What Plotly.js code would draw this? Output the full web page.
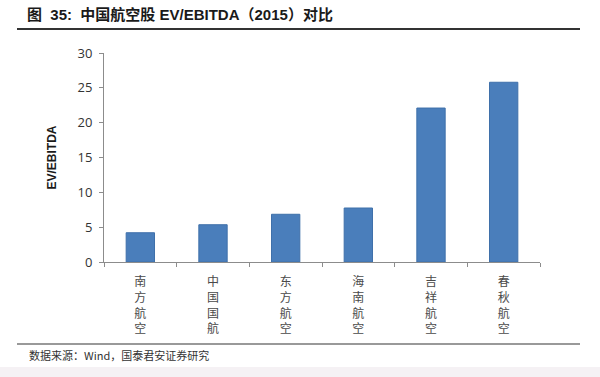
<!DOCTYPE html>
<html>
<head>
<meta charset="utf-8">
<script src="https://cdn.plot.ly/plotly-3.0.1.min.js"></script>
<style>html,body{margin:0;padding:0;background:#fff;}#chart{width:600px;height:377px;}</style>
</head>
<body>
<div id="chart"></div>
<script>
const categories = ['南方航空', '中国国航', '东方航空', '海南航空', '吉祥航空', '春秋航空'];
const evEbitda = [4.2, 5.35, 6.85, 7.75, 22.1, 25.8];
const yTickVals = [0, 5, 10, 15, 20, 25, 30];
const titleText = '图  35:  中国航空股 EV/EBITDA（2015）对比';
const yTitle = 'EV/EBITDA';
const sourceText = '数据来源：Wind，国泰君安证券研究';

const tickLabels = categories.map(c => c.split('').join('<br>'));

const L = 104, R = 540, T = 53, B = 262;
const W = 600, H = 377;
const px = x => (x - L) / (R - L);
const py = y => (B - y) / (B - T);

const trace = {
  type: 'bar',
  x: categories,
  y: evEbitda,
  marker: {color: '#4a7ebb', line: {color: '#3f70aa', width: 1}},
  hoverinfo: 'none'
};

const layout = {
  width: W, height: H,
  margin: {l: L, r: W - R, t: T, b: H - B},
  paper_bgcolor: '#ffffff',
  plot_bgcolor: '#ffffff',
  showlegend: false,
  bargap: 0.61,
  title: {
    text: titleText,
    font: {family: 'Liberation Sans, Noto Sans CJK SC, sans-serif', size: 15, color: '#1a1a1a', weight: 'bold'},
    x: 27 / W, xanchor: 'left', xref: 'container',
    y: 1 - 15 / H, yanchor: 'middle', yref: 'container'
  },
  xaxis: {
    type: 'category',
    tickmode: 'array',
    tickvals: categories,
    ticktext: tickLabels,
    tickson: 'boundaries',
    ticks: 'outside', ticklen: 4, tickcolor: '#8c8c8c',
    showline: true, linecolor: '#8c8c8c', linewidth: 1,
    showgrid: false, zeroline: false,
    ticklabelstandoff: 9,
    tickfont: {family: 'Noto Sans CJK SC, sans-serif', size: 12, color: '#4a4a4a'}
  },
  yaxis: {
    range: [0, 30],
    tickmode: 'array',
    tickvals: yTickVals,
    ticks: 'outside', ticklen: 4, tickcolor: '#8c8c8c',
    showline: true, linecolor: '#8c8c8c', linewidth: 1,
    showgrid: false, zeroline: false,
    ticklabelstandoff: 4,
    tickfont: {family: 'Open Sans, sans-serif', size: 13, color: '#333333'},
    title: {text: yTitle, standoff: 18, font: {family: 'Liberation Sans, sans-serif', size: 12, color: '#1a1a1a', weight: 'bold'}}
  },
  shapes: [
    {type: 'line', xref: 'paper', yref: 'paper', x0: px(17), x1: px(580), y0: py(29), y1: py(29), line: {color: '#333333', width: 2}},
    {type: 'line', xref: 'paper', yref: 'paper', x0: px(17), x1: px(580), y0: py(344), y1: py(344), line: {color: '#777777', width: 1.5}},
    {type: 'rect', xref: 'paper', yref: 'paper', x0: px(0), x1: px(600), y0: py(367), y1: py(377), fillcolor: '#f5f1f4', line: {width: 0}, layer: 'below'}
  ],
  annotations: [
    {text: sourceText, xref: 'paper', yref: 'paper', x: px(27), y: py(355), xanchor: 'left', yanchor: 'middle', showarrow: false,
     font: {family: 'Noto Sans CJK SC, sans-serif', size: 11, color: '#333333'}}
  ]
};

Plotly.newPlot('chart', [trace], layout, {displayModeBar: false, staticPlot: true});
</script>
</body>
</html>
